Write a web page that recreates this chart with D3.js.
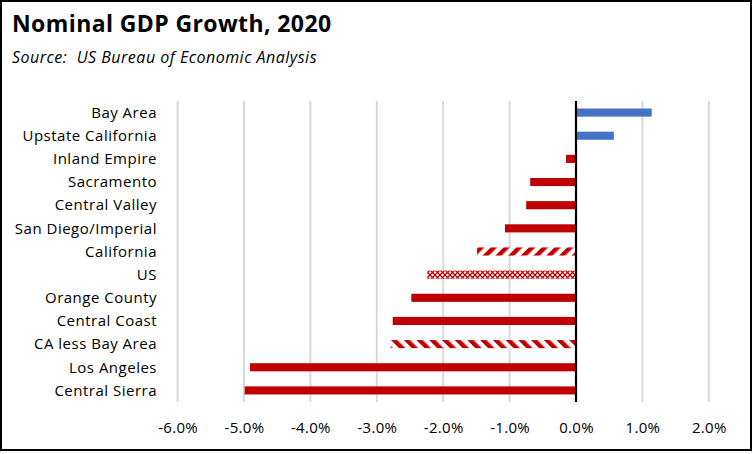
<!DOCTYPE html>
<html>
<head>
<meta charset="utf-8">
<script src="https://cdn.jsdelivr.net/npm/d3@7"></script>
<style>
  body { margin: 0; background: #fff; }
  svg { display: block; }
</style>
</head>
<body>
<div id="chart"></div>
<script>
// Chart data
const categories = [
  "Bay Area", "Upstate California", "Inland Empire", "Sacramento",
  "Central Valley", "San Diego/Imperial", "California", "US",
  "Orange County", "Central Coast", "CA less Bay Area", "Los Angeles",
  "Central Sierra"
];
const growth = [
  1.14, 0.57, -0.15, -0.69, -0.75, -1.07, -1.49, -2.24,
  -2.48, -2.76, -2.79, -4.91, -4.99
];
const tickValues = [-6, -5, -4, -3, -2, -1, 0, 1, 2];

const W = 754, H = 454;
const margin = { top: 101, right: 45.2, bottom: 52, left: 177.6 };
const font = "'Open Sans', sans-serif";

const svg = d3.select("#chart").append("svg")
  .attr("width", W)
  .attr("height", H);

// Patterns for the hatched bars
const defs = svg.append("defs");
const up = defs.append("pattern").attr("id", "hatch-up")
  .attr("patternUnits", "userSpaceOnUse")
  .attr("width", 9).attr("height", 9)
  .attr("patternTransform", "rotate(45)");
up.append("rect").attr("width", 9).attr("height", 9).attr("fill", "#fff");
up.append("rect").attr("width", 4.5).attr("height", 9).attr("fill", "#c00000");

const down = defs.append("pattern").attr("id", "hatch-down")
  .attr("patternUnits", "userSpaceOnUse")
  .attr("width", 9).attr("height", 9)
  .attr("patternTransform", "rotate(-45)");
down.append("rect").attr("width", 9).attr("height", 9).attr("fill", "#fff");
down.append("rect").attr("width", 4.5).attr("height", 9).attr("fill", "#c00000");

const cross = defs.append("pattern").attr("id", "hatch-cross")
  .attr("patternUnits", "userSpaceOnUse")
  .attr("width", 5).attr("height", 5);
cross.append("rect").attr("width", 5).attr("height", 5).attr("fill", "#fff");
cross.append("path").attr("d", "M0,0L5,5M5,0L0,5")
  .attr("stroke", "#c00000").attr("stroke-width", 1.3);

// Frame
svg.append("rect")
  .attr("x", 1).attr("y", 1)
  .attr("width", 750).attr("height", 449)
  .attr("fill", "#fff")
  .attr("stroke", "#000")
  .attr("stroke-width", 2);

// Titles
svg.append("text")
  .attr("x", 12).attr("y", 32)
  .style("font-family", font)
  .style("font-size", "23px")
  .style("font-weight", "bold")
  .style("letter-spacing", "0.4px")
  .text("Nominal GDP Growth, 2020");

svg.append("text")
  .attr("x", 12).attr("y", 63)
  .style("font-family", font)
  .style("font-size", "16px")
  .style("font-style", "italic")
  .style("letter-spacing", "0.5px")
  .text("Source:\u00a0 US Bureau of Economic Analysis");

// Scales
const x = d3.scaleLinear()
  .domain([-6, 2])
  .range([margin.left, W - margin.right]);

const y = d3.scaleBand()
  .domain(categories)
  .range([margin.top, H - margin.bottom])
  .paddingInner(0.65)
  .paddingOuter(0.325);

// Gridlines
svg.append("g")
  .selectAll("line")
  .data(tickValues.filter((d) => d !== 0))
  .join("line")
  .attr("x1", (d) => x(d)).attr("x2", (d) => x(d))
  .attr("y1", margin.top).attr("y2", H - margin.bottom)
  .attr("stroke", "#d9d9d9")
  .attr("stroke-width", 2);

// X axis labels
const xAxis = d3.axisBottom(x)
  .tickValues(tickValues)
  .tickFormat((d) => d.toFixed(1) + "%")
  .tickSize(0)
  .tickPadding(20);

svg.append("g")
  .attr("transform", `translate(0,${H - margin.bottom})`)
  .call(xAxis)
  .call((g) => g.select(".domain").remove())
  .selectAll("text")
  .style("font-family", font)
  .style("font-size", "15px")
  .style("letter-spacing", "0.3px")
  .attr("fill", "#000");

// Category labels
svg.append("g")
  .selectAll("text")
  .data(categories)
  .join("text")
  .attr("x", 157)
  .attr("y", (d) => y(d) + y.bandwidth() / 2)
  .attr("dy", "0.35em")
  .attr("text-anchor", "end")
  .style("font-family", font)
  .style("font-size", "15px")
  .style("letter-spacing", "0.5px")
  .text((d) => d);

// Bars
const fillFor = (name, v) => {
  if (name === "California") return "url(#hatch-up)";
  if (name === "CA less Bay Area") return "url(#hatch-down)";
  if (name === "US") return "url(#hatch-cross)";
  return v >= 0 ? "#4472c4" : "#c00000";
};

svg.append("g")
  .selectAll("rect")
  .data(categories.map((c, i) => ({ name: c, value: growth[i] })))
  .join("rect")
  .attr("x", (d) => x(Math.min(0, d.value)))
  .attr("y", (d) => y(d.name))
  .attr("width", (d) => Math.abs(x(d.value) - x(0)))
  .attr("height", y.bandwidth())
  .attr("fill", (d) => fillFor(d.name, d.value));

// Zero line
svg.append("line")
  .attr("x1", x(0)).attr("x2", x(0))
  .attr("y1", margin.top).attr("y2", H - margin.bottom)
  .attr("stroke", "#000")
  .attr("stroke-width", 2.2);
</script>
</body>
</html>
